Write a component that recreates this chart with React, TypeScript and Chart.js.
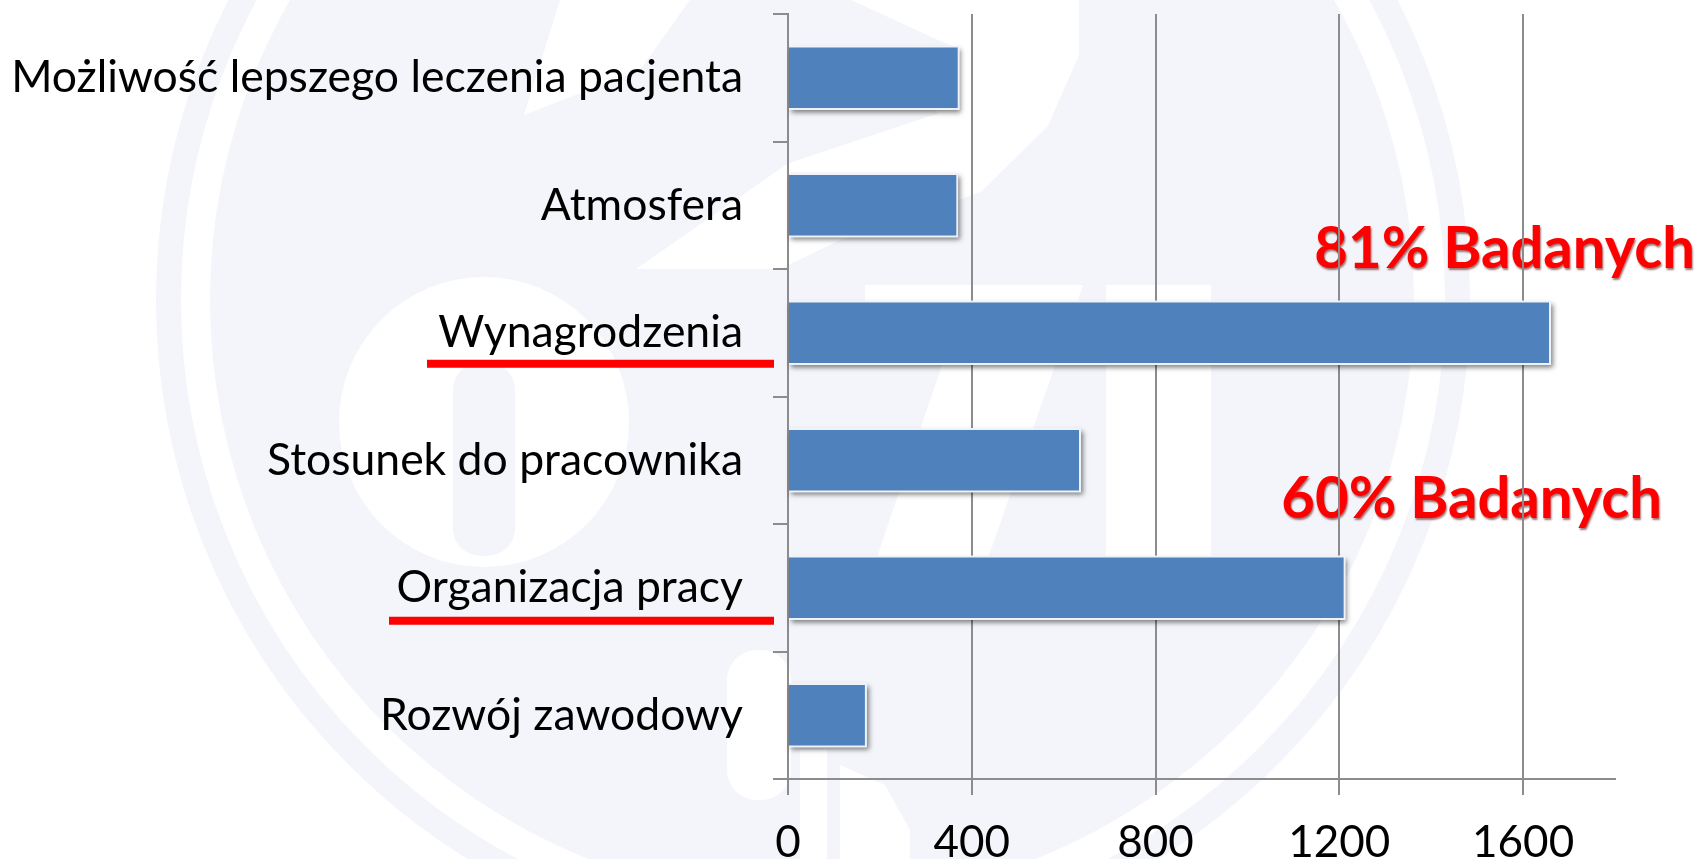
import React, { useEffect, useRef } from "react";
import { Chart, registerables } from "chart.js";

Chart.register(...registerables);

const categories = [
  "Możliwość lepszego leczenia pacjenta",
  "Atmosfera",
  "Wynagrodzenia",
  "Stosunek do pracownika",
  "Organizacja pracy",
  "Rozwój zawodowy",
];
const seriesValues = [373, 370, 1660, 637, 1213, 171];
const axisMax = 1800;
const axisStep = 400;
const underlinedCategories = ["Wynagrodzenia", "Organizacja pracy"];
const calloutTexts = ["81% Badanych", "60% Badanych"];

const LIGHT = "#f3f5fa";
const FONT = "Lato, Carlito, sans-serif";

function poly(ctx: CanvasRenderingContext2D, pts: number[][], color: string) {
  ctx.fillStyle = color;
  ctx.beginPath();
  pts.forEach((p, i) => (i ? ctx.lineTo(p[0], p[1]) : ctx.moveTo(p[0], p[1])));
  ctx.closePath();
  ctx.fill();
}

function drawWatermark(ctx: CanvasRenderingContext2D, w: number, h: number) {
  ctx.fillStyle = "#ffffff";
  ctx.fillRect(0, 0, w, h);
  ctx.strokeStyle = LIGHT;
  ctx.lineWidth = 25;
  ctx.beginPath();
  ctx.arc(813, 300, 644.5, 0, Math.PI * 2);
  ctx.stroke();
  ctx.fillStyle = LIGHT;
  ctx.beginPath();
  ctx.arc(812, 300, 602, 0, Math.PI * 2);
  ctx.fill();

  // round letter
  ctx.fillStyle = "#ffffff";
  ctx.beginPath();
  ctx.arc(484, 422, 145, 0, Math.PI * 2);
  ctx.fill();
  ctx.fillStyle = LIGHT;
  ctx.beginPath();
  ctx.roundRect(453, 362, 62, 194, 28);
  ctx.fill();

  // upper crescent and wings
  poly(ctx, [[851, 0], [1079, 0], [1079, 55], [1048, 126], [981, 192], [838, 241], [780, 269], [636, 269], [787, 164], [936, 105], [960, 50]], "#ffffff");
  poly(ctx, [[560, 0], [690, 0], [640, 70], [524, 115]], "#ffffff");
  poly(ctx, [[825, 0], [838, 0], [838, 135], [825, 135]], LIGHT);
  ctx.strokeStyle = LIGHT;
  ctx.lineWidth = 8;
  ctx.beginPath();
  ctx.moveTo(789, 159);
  ctx.lineTo(936, 110);
  ctx.stroke();

  // block letters
  poly(ctx, [[865, 285], [1066, 285], [1066, 345], [865, 345]], "#ffffff");
  poly(ctx, [[969, 285], [1083, 285], [977, 590], [866, 590]], "#ffffff");
  poly(ctx, [[1106, 285], [1211, 285], [1211, 556], [1106, 556]], "#ffffff");

  // lower staff
  ctx.fillStyle = "#ffffff";
  ctx.beginPath();
  ctx.roundRect(727, 650, 64, 150, 30);
  ctx.fill();
  poly(ctx, [[800, 750], [827, 750], [827, 859], [800, 859]], "#ffffff");
  poly(ctx, [[840, 765], [885, 785], [910, 830], [910, 859], [840, 859]], "#ffffff");
}

const decorPlugin = {
  id: "decor",
  beforeDraw(chart: any) {
    const ctx: CanvasRenderingContext2D = chart.ctx;
    ctx.save();
    drawWatermark(ctx, chart.width, chart.height);
    ctx.font = `bold 58px ${FONT}`;
    ctx.textAlign = "right";
    ctx.textBaseline = "alphabetic";
    ctx.fillStyle = "#ff0000";
    ctx.shadowColor = "rgba(90,0,0,0.55)";
    ctx.shadowOffsetX = 1;
    ctx.shadowOffsetY = 2;
    ctx.shadowBlur = 2;
    const y = chart.scales.y;
    ctx.fillText(calloutTexts[0], 1695, y.getPixelForValue(2) - 65);
    ctx.fillText(calloutTexts[1], 1662, y.getPixelForValue(3) + 58);
    ctx.restore();
  },
  beforeDatasetsDraw(chart: any) {
    const ctx: CanvasRenderingContext2D = chart.ctx;
    ctx.save();
    ctx.shadowColor = "rgba(0,0,0,0.5)";
    ctx.shadowOffsetX = 2;
    ctx.shadowOffsetY = 3;
    ctx.shadowBlur = 5;
    ctx.fillStyle = "#ffffff";
    chart.getDatasetMeta(0).data.forEach((el: any) => {
      const half = el.height / 2;
      ctx.fillRect(el.base, el.y - half, el.x - el.base, half * 2);
    });
    ctx.restore();
  },
  afterDatasetsDraw(chart: any) {
    const ctx: CanvasRenderingContext2D = chart.ctx;
    const y = chart.scales.y;
    ctx.save();
    ctx.fillStyle = "#ff0000";
    underlinedCategories.forEach((name, i) => {
      const cy = y.getPixelForValue(categories.indexOf(name));
      const left = i === 0 ? 427 : 389;
      ctx.fillRect(left, cy + (i === 0 ? 27 : 29), 774 - left, 8);
    });
    ctx.restore();
  },
};

export default function App() {
  const ref = useRef<HTMLCanvasElement>(null);
  useEffect(() => {
    const chart = new Chart(ref.current!, {
      type: "bar",
      data: {
        labels: categories,
        datasets: [
          {
            data: seriesValues,
            backgroundColor: "#4f81bd",
            borderColor: "#eef3f9",
            borderWidth: 2,
            barThickness: 64,
          },
        ],
      },
      plugins: [decorPlugin],
      options: {
        indexAxis: "y",
        animation: false,
        responsive: false,
        layout: { padding: { top: 14, right: 87, left: 0, bottom: 0 } },
        plugins: { legend: { display: false }, tooltip: { enabled: false } },
        scales: {
          x: {
            type: "linear",
            min: 0,
            max: axisMax,
            grid: { color: "#8c8c8c", lineWidth: 2, tickLength: 16 },
            border: { color: "#8c8c8c", width: 2 },
            ticks: {
              stepSize: axisStep,
              includeBounds: false,
              color: "#000000",
              padding: 21,
              maxRotation: 0,
              font: { family: FONT, size: 44 },
              callback: (v: any) => String(v),
            },
            afterFit(scale: any) {
              scale.height = 80;
              scale.paddingLeft = 0;
              scale.paddingRight = 0;
            },
          },
          y: {
            type: "category",
            grid: { drawOnChartArea: false, color: "#8c8c8c", lineWidth: 2, tickLength: 15 },
            border: { color: "#8c8c8c", width: 2 },
            ticks: {
              color: "#000000",
              padding: 30,
              autoSkip: false,
              font: { family: FONT, size: 44.5 },
            },
            afterFit(scale: any) {
              scale.width = 788;
              scale.paddingTop = 0;
              scale.paddingBottom = 0;
            },
          },
        },
      },
    } as any);
    return () => chart.destroy();
  }, []);
  return (
    <canvas
      ref={ref}
      width={1702}
      height={859}
      style={{ position: "absolute", left: 0, top: 0, display: "block", width: 1702, height: 859 }}
    />
  );
}
